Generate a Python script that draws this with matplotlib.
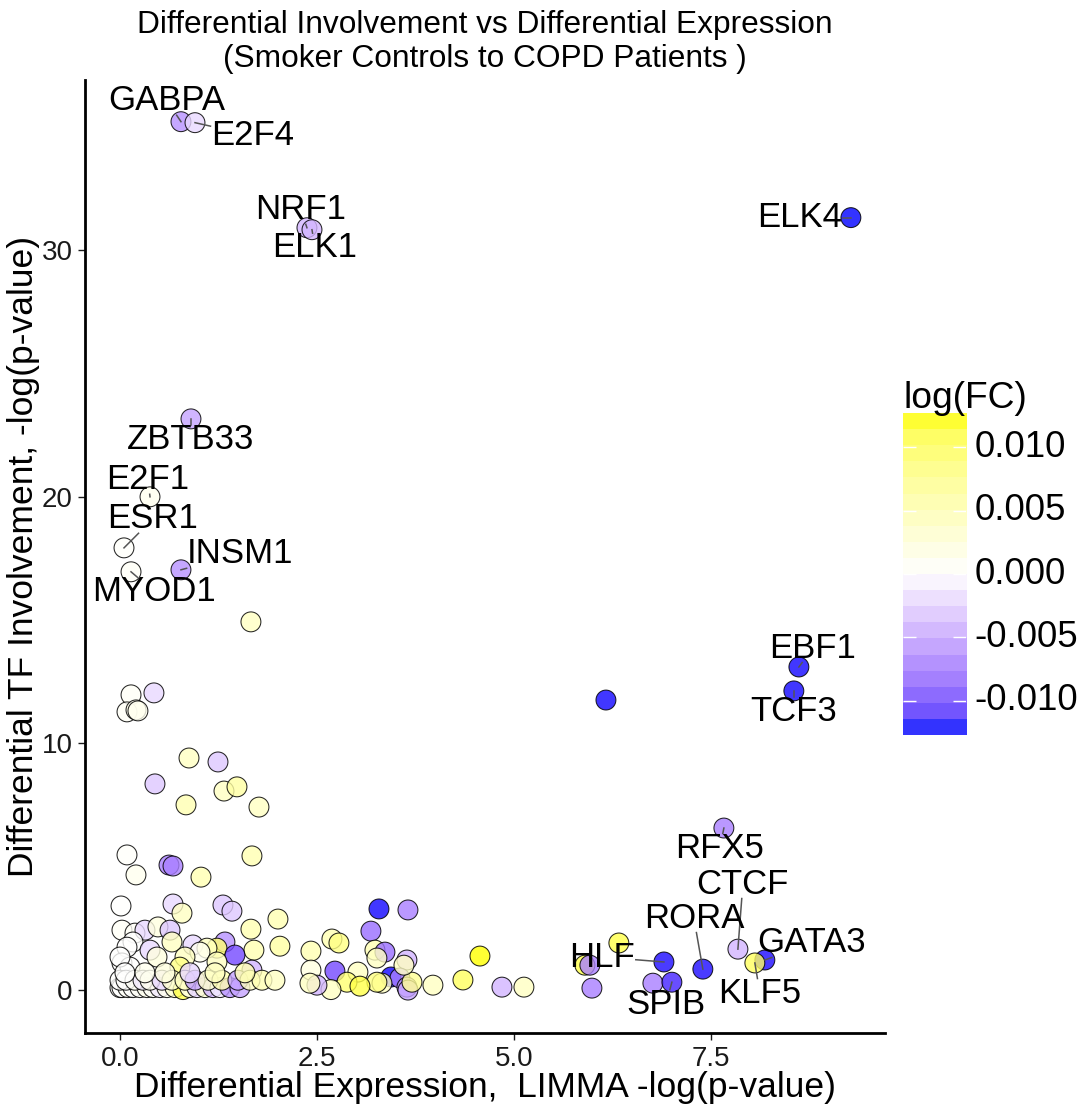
import numpy as np
import matplotlib
matplotlib.use("Agg")
import matplotlib.pyplot as plt
from matplotlib.colors import ListedColormap, Normalize

plt.rcParams['font.family'] = ['Liberation Sans', 'DejaVu Sans']

# ---------------- data ----------------
genes = ["GABPA", "E2F4", "NRF1", "ELK1", "ELK4", "ZBTB33", "E2F1", "ESR1", "MYOD1", "INSM1",
         "EBF1", "TCF3", "RFX5", "CTCF", "GATA3", "KLF5", "RORA", "HLF", "SPIB"]
genes_expr = [0.774, 0.952, 2.373, 2.437, 9.277, 0.901, 0.381, 0.051, 0.140, 0.774,
              8.617, 8.553, 7.665, 7.843, 8.185, 8.058, 7.398, 6.904, 7.005]
genes_inv = [35.21, 35.17, 30.91, 30.83, 31.32, 23.16, 20.00, 17.93, 16.96, 17.04,
             13.10, 12.13, 6.57, 1.66, 1.22, 1.10, 0.85, 1.14, 0.32]
genes_fc = [-0.006, -0.002, -0.004, -0.004, -0.0127, -0.005, 0.001, 0.0003, 0.0005, -0.006,
            -0.0126, -0.0126, -0.007, -0.004, -0.0125, 0.010, -0.0125, -0.0125, -0.0118]

# unlabeled transcription factors
other_expr = [1.662, 6.168, 6.764, 6.332, 5.901, 5.964, 5.990,
              3.287, 3.655, 3.185, 2.690, 2.779, 2.424, 3.236, 3.363, 3.261, 3.642,
              2.424, 2.728, 3.020, 4.569, 4.353, 4.848, 5.127, 3.972, 3.439, 3.553,
              3.325, 3.261, 3.642, 3.655, 3.706, 2.881, 3.046, 2.678, 2.500, 2.411, 3.604,
              0.089, 0.203, 0.622, 0.673, 1.028, 1.675, 0.013, 0.673, 0.787, 1.307,
              1.421, 2.005, 1.662, 0.025, 1.700, 2.030,
              0.140, 0.431, 0.089, 0.203, 0.228, 0.876, 1.244, 0.444, 1.320, 1.485, 0.838, 1.764,
              0.190, 0.317, 0.482, 0.635, 0.660, 0.165, 0.089, 1.332, 1.231, 1.459, 0.926,
              1.104, 1.015, 0.381, 0.470, 0.025, 0.127, 0.000, 0.825, 0.761, 1.231, 1.675,
              0.000, 0.025, 0.100, 0.165, 0.254, 0.343, 0.419, 0.508, 0.596, 0.698, 0.800,
              0.888, 0.977, 1.079, 1.180, 1.269, 1.396, 1.523,
              0.000, 0.076, 0.190, 0.292, 0.381, 0.533, 0.660, 0.825, 0.952, 1.117, 1.294,
              1.497, 1.650, 1.802, 1.967,
              0.063, 0.317, 0.571, 0.888, 1.206, 1.586]
other_inv = [14.93, 11.76, 0.28, 1.91, 1.01, 1.01, 0.08,
             3.29, 3.25, 2.39, 2.07, 1.91, 1.58, 1.62, 1.54, 1.30, 1.22,
             0.81, 0.77, 0.73, 1.38, 0.41, 0.12, 0.12, 0.20, 0.53, 0.49,
             0.28, 0.32, 0.12, 0.00, 0.32, 0.32, 0.16, 0.02, 0.20, 0.28, 1.01,
             5.48, 4.67, 5.07, 5.03, 4.58, 5.44, 3.41, 3.49, 3.12, 3.45,
             3.20, 2.88, 2.47, 2.43, 1.62, 1.78,
             11.97, 12.05, 11.28, 11.36, 11.32, 9.41, 9.25, 8.36, 8.07, 8.24, 7.51, 7.42,
             2.31, 2.43, 2.56, 2.43, 1.95, 1.95, 1.74, 1.95, 1.70, 1.42, 1.83,
             1.70, 1.54, 1.62, 1.34, 1.10, 0.93, 1.34, 1.34, 0.93, 1.14, 0.81,
             0.10, 0.10, 0.10, 0.10, 0.10, 0.10, 0.10, 0.10, 0.10, 0.10, 0.02,
             0.10, 0.10, 0.10, 0.10, 0.10, 0.10, 0.10,
             0.40, 0.40, 0.40, 0.40, 0.40, 0.40, 0.40, 0.40, 0.40, 0.40, 0.40,
             0.40, 0.40, 0.40, 0.40,
             0.70, 0.70, 0.70, 0.70, 0.70, 0.70]
other_fc = [0.004, -0.0126, -0.007, 0.011, 0.011, -0.007, -0.007,
            -0.0126, -0.007, -0.008, 0.005, 0.008, 0.005, 0.005, -0.008, 0.004, -0.004,
            0.002, -0.010, 0.004, 0.0127, 0.010, -0.004, 0.004, 0.004, -0.0126, -0.007,
            0.004, 0.008, -0.006, -0.005, 0.007, 0.009, 0.011, 0.004, -0.004, 0.004, 0.004,
            0.0003, 0.001, -0.007, -0.007, 0.005, 0.005, 0.0, -0.002, 0.004, -0.003,
            -0.003, 0.005, 0.005, 0.0005, 0.005, 0.006,
            0.0005, -0.002, 0.0005, 0.001, 0.001, 0.004, -0.003, -0.003, 0.004, 0.006, 0.005, 0.004,
            0.0005, -0.002, 0.002, -0.003, 0.004, 0.0, 0.0, -0.006, 0.009, -0.010, -0.002,
            0.004, 0.001, -0.002, 0.002, 0.0, 0.0, 0.0, 0.004, 0.008, 0.004, -0.004,
            0.0, 0.0, 0.0005, 0.0, 0.0005, 0.001, 0.0005, -0.001, 0.001, 0.003, 0.011,
            0.001, -0.002, 0.003, -0.004, -0.001, -0.006, -0.005,
            0.0, 0.0, 0.0005, -0.001, 0.001, -0.002, 0.003, 0.004, -0.005, 0.003, 0.005,
            -0.005, 0.004, 0.005, 0.004,
            0.0, 0.001, 0.002, -0.002, 0.004, 0.005]

# label placement (text centres, data units)
label_pos = {"GABPA": (0.596, 36.06), "E2F4": (1.688, 34.64), "NRF1": (2.297, 31.64),
             "ELK1": (2.475, 30.10), "ELK4": (8.629, 31.32), "ZBTB33": (0.901, 22.31),
             "E2F1": (0.355, 20.69), "ESR1": (0.419, 19.11), "INSM1": (1.523, 17.69),
             "MYOD1": (0.438, 16.15), "EBF1": (8.794, 13.87), "TCF3": (8.553, 11.28),
             "RFX5": (7.614, 5.76), "CTCF": (7.906, 4.30), "RORA": (7.284, 2.92),
             "GATA3": (8.782, 1.91), "HLF": (6.117, 1.34), "KLF5": (8.122, -0.12),
             "SPIB": (6.929, -0.57)}

x_ticks = [0.0, 2.5, 5.0, 7.5]
y_ticks = [0, 10, 20, 30]
cbar_ticks = [-0.010, -0.005, 0.000, 0.005, 0.010]

# ---------------- colour scale (Lab interpolation like ggplot gradient2) ----------------
M = np.array([[0.4124564, 0.3575761, 0.1804375],
              [0.2126729, 0.7151522, 0.0721750],
              [0.0193339, 0.1191920, 0.9503041]])
WP = np.array([0.95047, 1.0, 1.08883])


def srgb_to_lab(c):
    c = np.asarray(c, float)
    lin = np.where(c <= 0.04045, c / 12.92, ((c + 0.055) / 1.055) ** 2.4)
    t = (M @ lin) / WP
    f = np.where(t > 0.008856, np.cbrt(t), 7.787 * t + 16 / 116)
    return np.array([116 * f[1] - 16, 500 * (f[0] - f[1]), 200 * (f[1] - f[2])])


def lab_to_srgb(lab):
    L, a, b = lab
    fy = (L + 16) / 116
    f = np.array([fy + a / 500, fy, fy - b / 200])
    t = np.where(f > 0.206893, f ** 3, (f - 16 / 116) / 7.787)
    lin = np.clip(np.linalg.inv(M) @ (t * WP), 0, 1)
    c = np.where(lin <= 0.0031308, 12.92 * lin, 1.055 * lin ** (1 / 2.4) - 0.055)
    return np.clip(c, 0, 1)


lab_lo = srgb_to_lab([0, 0, 1])
lab_mid = srgb_to_lab([1, 1, 1])
lab_hi = srgb_to_lab([1, 1, 0])
cols = []
for t in np.linspace(0, 1, 256):
    if t < 0.5:
        f = t / 0.5
        lab = lab_lo + (lab_mid - lab_lo) * f
    else:
        f = (t - 0.5) / 0.5
        lab = lab_mid + (lab_hi - lab_mid) * f
    cols.append(lab_to_srgb(lab))
cmap = ListedColormap(cols)

all_fc = np.array(genes_fc + other_fc)
fc_lo, fc_hi = all_fc.min(), all_fc.max()
m = max(abs(fc_lo), abs(fc_hi))
norm = Normalize(vmin=-m, vmax=m)
ALPHA = 0.8


def colour(v):
    r, g, b, _ = cmap(norm(v))
    return (r, g, b, ALPHA)


# ---------------- figure ----------------
fig = plt.figure(figsize=(10.86, 11.06), dpi=100)
ax = fig.add_axes([85 / 1086, 73 / 1106, 800 / 1086, 953 / 1106])

xs = np.array(other_expr + genes_expr)
ys = np.array(other_inv + genes_inv)
fcs = np.array(other_fc + genes_fc)
ax.scatter(xs, ys, s=205, c=[colour(v) for v in fcs],
           edgecolors=(0, 0, 0, 0.85), linewidths=0.75, zorder=2)

ax.set_xlim(-0.444, 9.71)
ax.set_ylim(-1.74, 36.9)
ax.set_xticks(x_ticks)
ax.set_xticklabels([f"{v:.1f}" for v in x_ticks])
ax.set_yticks(y_ticks)
ax.set_yticklabels([str(v) for v in y_ticks])
ax.tick_params(axis='both', labelsize=20, length=5, width=1, colors='#1a1a1a', pad=4)
for s in ['top', 'right']:
    ax.spines[s].set_visible(False)
for s in ['left', 'bottom']:
    ax.spines[s].set_linewidth(2)
    ax.spines[s].set_color('black')

ax.set_xlabel("Differential Expression,  LIMMA -log(p-value)", fontsize=25.5, labelpad=0)
ax.set_ylabel("Differential TF Involvement, -log(p-value)", fontsize=25.5, labelpad=1)

fig.text(485 / 1086, 1 - 10 / 1106,
         "Differential Involvement vs Differential Expression\n(Smoker Controls to COPD Patients )",
         ha='center', va='top', fontsize=22.8, linespacing=1.18, multialignment='center')

# labels
texts = []
for g, gx, gy in zip(genes, genes_expr, genes_inv):
    lx, ly = label_pos[g]
    t = ax.text(lx, ly, g, fontsize=25, ha='center', va='center', zorder=4)
    texts.append((t, gx, gy))

fig.canvas.draw()
renderer = fig.canvas.get_renderer()
for t, gx, gy in texts:
    bb = t.get_window_extent(renderer)
    cx, cy = (bb.x0 + bb.x1) / 2, (bb.y0 + bb.y1) / 2
    hw, hh = bb.width / 2 + 1, bb.height / 2 - 2
    px, py = ax.transData.transform((gx, gy))
    dx, dy = px - cx, py - cy
    tx = hw / abs(dx) if dx != 0 else np.inf
    ty = hh / abs(dy) if dy != 0 else np.inf
    tt = min(tx, ty)
    if tt >= 1:
        continue
    ex, ey = cx + tt * dx, cy + tt * dy
    (dx0, dy0), (dx1, dy1) = ax.transData.inverted().transform([(px, py), (ex, ey)])
    ax.plot([dx0, dx1], [dy0, dy1], color='#555555', lw=1.1, zorder=3)

# colourbar
cax = fig.add_axes([903 / 1086, (1106 - 735) / 1106, 63 / 1086, 322 / 1106])
nbin = 20
vals = np.linspace(fc_lo, fc_hi, nbin)
img = np.array([colour(v) for v in vals]).reshape(nbin, 1, 4)
cax.imshow(img, aspect='auto', origin='lower', extent=[0, 1, fc_lo, fc_hi],
           interpolation='nearest')
cax.set_xlim(0, 1)
cax.set_ylim(fc_lo, fc_hi)
for s in cax.spines.values():
    s.set_visible(False)
cax.set_xticks([])
cax.set_yticks([])
for v in cbar_ticks:
    cax.plot([0, 0.2], [v, v], color='white', lw=1, solid_capstyle='butt')
    cax.plot([0.8, 1], [v, v], color='white', lw=1, solid_capstyle='butt')
    cax.text(1.14, v, f"{v:.3f}", transform=cax.get_yaxis_transform(),
             va='center', ha='left', fontsize=26.5)
cax.text(0.0, 1.0155, "log(FC)", transform=cax.transAxes, ha='left', va='baseline',
         fontsize=26.8)

fig.savefig("out.png", dpi=100)
